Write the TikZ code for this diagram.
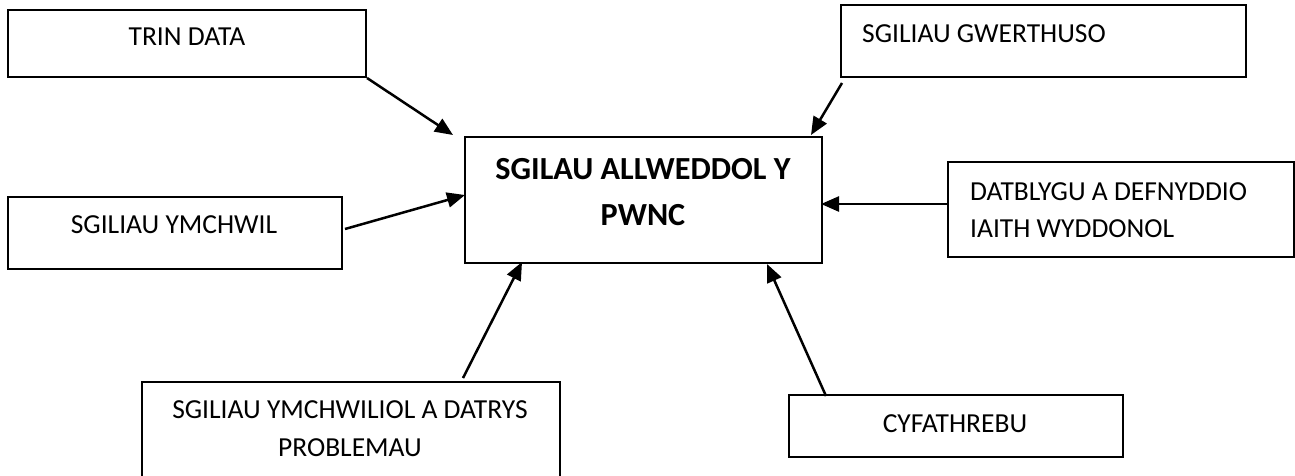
\documentclass[tikz,border=0pt]{standalone}
\usepackage{fontspec}
\setmainfont{Carlito}
\usetikzlibrary{arrows.meta}
\tikzset{
  box/.style={draw=black, line width=2pt, inner sep=0pt, fill=none},
  txt/.style={inner sep=0pt, font=\fontsize{27.5}{33}\selectfont},
  btxt/.style={inner sep=0pt, font=\fontsize{32.2}{38}\selectfont\bfseries},
  conn/.style={line width=2.5pt, -{Triangle[length=18pt,width=15pt]}}
}
\begin{document}
\begin{tikzpicture}[x=1pt,y=-1pt]
\useasboundingbox (0,0) rectangle (1295,475);
\begin{scope}
\clip (0,0) rectangle (1295,475);
% boxes
\node[box, minimum width=358pt, minimum height=67pt] (trin) at (187,43.5) {};
\node[box, minimum width=405pt, minimum height=72pt] (gwer) at (1043.5,41) {};
\node[box, minimum width=357pt, minimum height=126pt] (main) at (643.5,200) {};
\node[box, minimum width=334pt, minimum height=72pt] (ymch) at (175,233) {};
\node[box, minimum width=346pt, minimum height=95pt] (datb) at (1121,209.5) {};
\node[box, minimum width=418pt, minimum height=120pt] (prob) at (351,442) {};
\node[box, minimum width=334pt, minimum height=62pt] (cyfa) at (956,426) {};
\end{scope}
% texts
\node[txt, anchor=base] (trinT) at (187,45) {TRIN DATA};
\node[txt, anchor=base west] (gwerT) at (862,42) {SGILIAU GWERTHUSO};
\node[btxt, anchor=base] (mainA) at (643,179) {SGILAU ALLWEDDOL Y};
\node[btxt, anchor=base] (mainB) at (643,225) {PWNC};
\node[txt, anchor=base] (ymchT) at (174,233) {SGILIAU YMCHWIL};
\node[txt, anchor=base west] (datbA) at (970,200) {DATBLYGU A DEFNYDDIO};
\node[txt, anchor=base west] (datbB) at (970,237) {IAITH WYDDONOL};
\node[txt, anchor=base] (probA) at (350,418) {SGILIAU YMCHWILIOL A DATRYS};
\node[txt, anchor=base] (probB) at (350,456) {PROBLEMAU};
\node[txt, anchor=base] (cyfaT) at (955,432) {CYFATHREBU};
% connector end points
\coordinate (t1) at (453,135);
\coordinate (t2) at (811,135);
\coordinate (t3) at (465,195);
\coordinate (t4) at (821,204);
\coordinate (t5) at (522,262);
\coordinate (t6) at (767,264);
\coordinate (s2) at (842,83);
\coordinate (s3) at (345,229);
\coordinate (s4) at (948,204);
\coordinate (s5) at (463,378);
\coordinate (s6) at (826,396);
% connectors
\draw[conn] (trin.south east) -- (t1);
\draw[conn] (s2) -- (t2);
\draw[conn] (s3) -- (t3);
\draw[conn] (s4) -- (t4);
\draw[conn] (s5) -- (t5);
\draw[conn] (s6) -- (t6);
\end{tikzpicture}
\end{document}
